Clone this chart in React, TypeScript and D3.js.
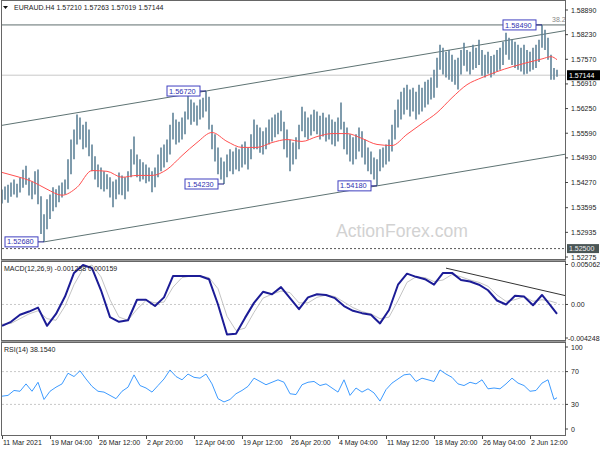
import React from "react";
import * as d3 from "d3";

// EURAUD H4, one entry per two 4H bars (index 0..185)
const barHigh = [
  1.5408, 1.5416, 1.5421, 1.5427, 1.5435, 1.5424, 1.5440, 1.5461, 1.5472, 1.5440,
  1.5430, 1.5457, 1.5462, 1.5390, 1.5342, 1.5382, 1.5395, 1.5414, 1.5409, 1.5419,
  1.5427, 1.5435, 1.5489, 1.5542, 1.5569, 1.5609, 1.5601, 1.5582, 1.5590, 1.5569,
  1.5529, 1.5497, 1.5475, 1.5467, 1.5457, 1.5449, 1.5441, 1.5430, 1.5435, 1.5454,
  1.5446, 1.5441, 1.5457, 1.5516, 1.5550, 1.5502, 1.5489, 1.5481, 1.5475, 1.5467,
  1.5457, 1.5467, 1.5502, 1.5521, 1.5529, 1.5542, 1.5582, 1.5614, 1.5596, 1.5590,
  1.5601, 1.5617, 1.5669, 1.5649, 1.5641, 1.5633, 1.5649, 1.5654, 1.5672, 1.5657,
  1.5582, 1.5556, 1.5521, 1.5494, 1.5483, 1.5502, 1.5516, 1.5510, 1.5521, 1.5516,
  1.5529, 1.5537, 1.5521, 1.5556, 1.5596, 1.5582, 1.5574, 1.5564, 1.5574, 1.5596,
  1.5601, 1.5609, 1.5614, 1.5620, 1.5590, 1.5569, 1.5542, 1.5534, 1.5548, 1.5582,
  1.5630, 1.5617, 1.5601, 1.5609, 1.5622, 1.5617, 1.5606, 1.5614, 1.5601, 1.5609,
  1.5596, 1.5590, 1.5601, 1.5641, 1.5590, 1.5574, 1.5556, 1.5548, 1.5556, 1.5574,
  1.5564, 1.5542, 1.5521, 1.5510, 1.5494, 1.5489, 1.5516, 1.5521, 1.5529, 1.5542,
  1.5582, 1.5622, 1.5649, 1.5670, 1.5681, 1.5689, 1.5676, 1.5681, 1.5670, 1.5689,
  1.5681, 1.5697, 1.5702, 1.5708, 1.5729, 1.5761, 1.5796, 1.5788, 1.5777, 1.5782,
  1.5769, 1.5756, 1.5761, 1.5782, 1.5801, 1.5782, 1.5777, 1.5796, 1.5788, 1.5809,
  1.5782, 1.5769, 1.5777, 1.5766, 1.5769, 1.5782, 1.5788, 1.5804, 1.5828, 1.5815,
  1.5809, 1.5804, 1.5796, 1.5788, 1.5796, 1.5782, 1.5777, 1.5788, 1.5796, 1.5809,
  1.5849, 1.5836, 1.5815, 1.5769, 1.5734, 1.5729,
];
const barLow = [
  1.5371, 1.5381, 1.5373, 1.5389, 1.5395, 1.5387, 1.5400, 1.5413, 1.5421, 1.5392,
  1.5382, 1.5395, 1.5369, 1.5289, 1.5268, 1.5302, 1.5329, 1.5350, 1.5361, 1.5374,
  1.5387, 1.5395, 1.5409, 1.5449, 1.5489, 1.5529, 1.5542, 1.5516, 1.5521, 1.5497,
  1.5457, 1.5435, 1.5414, 1.5409, 1.5403, 1.5409, 1.5387, 1.5361, 1.5382, 1.5395,
  1.5393, 1.5382, 1.5403, 1.5441, 1.5475, 1.5441, 1.5430, 1.5435, 1.5425, 1.5430,
  1.5401, 1.5414, 1.5441, 1.5457, 1.5467, 1.5481, 1.5502, 1.5542, 1.5529, 1.5534,
  1.5542, 1.5556, 1.5596, 1.5582, 1.5590, 1.5580, 1.5596, 1.5601, 1.5617, 1.5569,
  1.5516, 1.5483, 1.5449, 1.5435, 1.5423, 1.5441, 1.5457, 1.5449, 1.5462, 1.5457,
  1.5467, 1.5475, 1.5462, 1.5489, 1.5516, 1.5516, 1.5507, 1.5502, 1.5516, 1.5529,
  1.5537, 1.5548, 1.5556, 1.5564, 1.5516, 1.5494, 1.5457, 1.5475, 1.5489, 1.5516,
  1.5564, 1.5548, 1.5542, 1.5553, 1.5564, 1.5556, 1.5542, 1.5550, 1.5537, 1.5542,
  1.5529, 1.5524, 1.5537, 1.5569, 1.5516, 1.5502, 1.5483, 1.5475, 1.5489, 1.5510,
  1.5494, 1.5475, 1.5457, 1.5449, 1.5435, 1.5418, 1.5457, 1.5467, 1.5475, 1.5483,
  1.5510, 1.5542, 1.5574, 1.5596, 1.5609, 1.5622, 1.5604, 1.5617, 1.5596, 1.5609,
  1.5617, 1.5628, 1.5636, 1.5649, 1.5654, 1.5681, 1.5729, 1.5716, 1.5708, 1.5702,
  1.5697, 1.5689, 1.5676, 1.5716, 1.5740, 1.5724, 1.5716, 1.5729, 1.5734, 1.5742,
  1.5713, 1.5708, 1.5718, 1.5708, 1.5716, 1.5724, 1.5729, 1.5742, 1.5769, 1.5756,
  1.5742, 1.5734, 1.5729, 1.5724, 1.5716, 1.5718, 1.5724, 1.5729, 1.5734, 1.5750,
  1.5788, 1.5782, 1.5756, 1.5702, 1.5702, 1.5710,
];

// moving average (red)
const maIdx = [0, 5, 10, 15, 20, 25, 30, 35, 40, 45, 50, 55, 60, 65, 70, 75, 80, 85, 90, 95,
  100, 105, 110, 115, 120, 125, 130, 135, 140, 145, 150, 155, 160, 165, 170, 175, 180, 183, 185];
const maVal = [
  1.5454, 1.5443, 1.5430, 1.5409, 1.5393, 1.5414, 1.5459, 1.5457, 1.5441, 1.5446,
  1.5446, 1.5462, 1.5499, 1.5534, 1.5561, 1.5537, 1.5521, 1.5521, 1.5534, 1.5542,
  1.5537, 1.5550, 1.5558, 1.5558, 1.5545, 1.5529, 1.5526, 1.5556, 1.5585, 1.5614,
  1.5654, 1.5689, 1.5708, 1.5724, 1.5737, 1.5748, 1.5758, 1.5764, 1.5756,
];

const priceTicks = [1.5889, 1.5823, 1.5757, 1.5691, 1.5625, 1.5559, 1.5493, 1.5427, 1.53595, 1.52935, 1.52275];
const lastPrice = 1.57144;
const supportLevel = 1.525;
const fibLevel = 1.5849;

// swing labels
const swingText = ["1.52680", "1.56720", "1.54230", "1.54180", "1.58490"];
const swingIdx = [14, 68, 74, 125, 180];
const swingPrice = [1.5268, 1.5672, 1.5423, 1.5418, 1.5849];

// channel anchors
const chLowIdx = [14, 125];
const chLowPrice = [1.5268, 1.5418];
const chHighIdx = 68;
const chHighPrice = 1.5672;

// MACD (sampled every 3 index steps, last point at 185)
const macdIdx = [...d3.range(0, 62).map((k) => k * 3), 185];
const macdMain = [
  -0.0027, -0.0022, -0.0013, -0.0009, -0.0004, -0.0027, -0.0012, 0.0010, 0.0040, 0.0050,
  0.0046, 0.0018, -0.0016, -0.0022, -0.0020, 0.0006, 0.0006, -0.0002, 0.0009, 0.0036,
  0.0036, 0.0036, 0.0036, 0.0032, 0.0000, -0.0038, -0.0037, -0.0017, 0.0002, 0.0016,
  0.0013, 0.0022, 0.0008, -0.0006, 0.0009, 0.0013, 0.0012, 0.0008, -0.0002, -0.0008,
  -0.0011, -0.0013, -0.0024, -0.0007, 0.0025, 0.0039, 0.0035, 0.0032, 0.0025, 0.0040,
  0.0040, 0.0031, 0.0029, 0.0025, 0.0018, 0.0005, 0.0000, 0.0011, 0.0010, -0.0001,
  0.0012, -0.0002, -0.0012,
];
const macdSignal = [
  -0.0025, -0.0024, -0.0018, -0.0012, -0.0008, -0.0018, -0.0020, -0.0002, 0.0025, 0.0045,
  0.0050, 0.0035, 0.0006, -0.0016, -0.0020, -0.0006, 0.0005, 0.0002, 0.0003, 0.0022,
  0.0034, 0.0036, 0.0036, 0.0034, 0.0020, -0.0015, -0.0033, -0.0030, -0.0010, 0.0008,
  0.0013, 0.0017, 0.0015, 0.0002, 0.0002, 0.0009, 0.0012, 0.0010, 0.0003, -0.0004,
  -0.0009, -0.0012, -0.0018, -0.0016, 0.0005, 0.0028, 0.0035, 0.0034, 0.0029, 0.0031,
  0.0038, 0.0035, 0.0031, 0.0028, 0.0023, 0.0012, 0.0004, 0.0006, 0.0010, 0.0004,
  0.0006, 0.0004, 0.00016,
];
const macdTicks = [0.005062, 0, -0.004248];
const macdTickText = ["0.005062", "0.00", "-0.004248"];
const macdTrendIdx = [148, 188];
const macdTrendVal = [0.0046, 0.0011];

// RSI (sampled every 2 index steps, last point at 185)
const rsiIdx = [...d3.range(0, 93).map((k) => k * 2), 185];
const rsiVal = [
  40, 41, 47, 46, 55, 46, 57, 36, 46, 51,
  55, 68, 64, 71, 61, 52, 46, 45, 41, 37,
  46, 51, 66, 53, 50, 45, 53, 61, 72, 64,
  60, 67, 63, 62, 67, 55, 37, 33, 36, 43,
  47, 52, 62, 58, 54, 57, 60, 57, 43, 42,
  54, 57, 58, 53, 55, 50, 45, 60, 41, 50,
  45, 49, 44, 34, 48, 56, 61, 66, 67, 58,
  62, 60, 58, 72, 67, 63, 55, 53, 57, 55,
  60, 49, 50, 49, 55, 62, 56, 53, 46, 47,
  56, 60, 36, 38.154,
];
const rsiTicks = [100, 70, 30, 0];

const timeLabels = ["11 Mar 2021", "19 Mar 04:00", "26 Mar 12:00", "2 Apr 20:00", "12 Apr 04:00", "19 Apr 12:00",
  "26 Apr 20:00", "4 May 04:00", "11 May 12:00", "18 May 20:00", "26 May 04:00", "2 Jun 12:00"];

const font = "'Liberation Sans', Arial, sans-serif";

const App = () => {
  const right = 565;
  const x = d3.scaleLinear().domain([0, 185]).range([2, 557]);
  const yP = d3.scaleLinear().domain([1.52275, 1.5889]).range([257, 10]);
  const yM = d3.scaleLinear().domain([-0.004248, 0.005062]).range([338, 264.5]);
  const yR = d3.scaleLinear().domain([0, 100]).range([429, 347]);
  const idxRight = x.invert(right);

  const slope = (chLowPrice[1] - chLowPrice[0]) / (chLowIdx[1] - chLowIdx[0]);
  const lowAt = (i: number) => chLowPrice[0] + (i - chLowIdx[0]) * slope;
  const highAt = (i: number) => chHighPrice + (i - chHighIdx) * slope;

  const maLine = d3.line<number>().x((_, i) => x(maIdx[i])).y((d) => yP(d)).curve(d3.curveMonotoneX);
  const macdLine = d3.line<number>().x((_, i) => x(macdIdx[i])).y((d) => yM(d));
  const rsiLine = d3.line<number>().x((_, i) => x(rsiIdx[i])).y((d) => yR(d));

  const txt = { fontFamily: font, fontSize: 7, fill: "#222" } as const;

  return (
    <svg width={600} height={450} style={{ position: "absolute", left: 0, top: 0, background: "#fff" }}>
      <defs>
        <clipPath id="cMain"><rect x={2} y={1} width={right - 2} height={258} /></clipPath>
        <clipPath id="cMacd"><rect x={2} y={262} width={right - 2} height={78} /></clipPath>
        <clipPath id="cRsi"><rect x={2} y={343} width={right - 2} height={92} /></clipPath>
      </defs>

      {/* panel frames */}
      <rect x={1.5} y={0.5} width={right - 1} height={259} fill="none" stroke="#666" />
      <rect x={1.5} y={261.5} width={right - 1} height={79} fill="none" stroke="#666" />
      <rect x={1.5} y={342.5} width={right - 1} height={93} fill="none" stroke="#666" />
      <line x1={1} x2={right + 1} y1={260.5} y2={260.5} stroke="#999" />
      <line x1={1} x2={right + 1} y1={341.5} y2={341.5} stroke="#999" />

      {/* main panel */}
      <text x={336} y={237} fontFamily={font} fontSize={17.6} fill="#d2d2d2">ActionForex.com</text>
      <g clipPath="url(#cMain)">
        <line x1={2} x2={right} y1={yP(lastPrice)} y2={yP(lastPrice)} stroke="#c8c8c8" />
        <line x1={2} x2={right} y1={yP(supportLevel)} y2={yP(supportLevel)} stroke="#555" strokeDasharray="2,2" />
        <line x1={2} x2={right} y1={yP(fibLevel)} y2={yP(fibLevel)} stroke="#5e6e6e" />
        <line x1={x(0)} x2={right} y1={yP(highAt(0))} y2={yP(highAt(idxRight))} stroke="#5e7373" />
        <line x1={x(chLowIdx[0])} x2={right} y1={yP(lowAt(chLowIdx[0]))} y2={yP(lowAt(idxRight))} stroke="#5e7373" />
        {barHigh.map((h, i) => (
          <line key={i} x1={x(i)} x2={x(i)} y1={yP(h)} y2={yP(barLow[i])} stroke="#5f8398" strokeWidth={1.6} />
        ))}
        <path d={maLine(maVal) ?? ""} fill="none" stroke="#ff5050" strokeWidth={1} />
        {swingText.map((t, k) => {
          const px = x(swingIdx[k]);
          const py = yP(swingPrice[k]);
          const bx = px - 39;
          return (
            <g key={t}>
              <line x1={bx + 33} x2={px} y1={py} y2={py} stroke="#1a1a80" />
              <rect x={bx} y={py - 5} width={33} height={10} fill="#fff" stroke="#4040c0" />
              <text x={bx + 2} y={py + 2.6} fontFamily={font} fontSize={7.4} fill="#3030b0">{t}</text>
            </g>
          );
        })}
        <text x={552} y={yP(fibLevel) - 3} {...txt} fill="#888">38.2</text>
      </g>
      <path d="M3,6 L8,6 L5.5,9 Z" fill="#111" />
      <text x={14} y={10} {...txt}>EURAUD.H4  1.57210 1.57263 1.57019 1.57144</text>

      {/* price axis */}
      {priceTicks.map((v) => (
        <g key={v}>
          <line x1={right} x2={right + 3} y1={yP(v)} y2={yP(v)} stroke="#444" />
          <text x={571} y={yP(v) + 2.5} {...txt}>{v.toFixed(5)}</text>
        </g>
      ))}
      <rect x={567} y={yP(lastPrice) - 5} width={33} height={10} fill="#000" />
      <text x={569} y={yP(lastPrice) + 2.5} {...txt} fill="#fff">{lastPrice.toFixed(5)}</text>
      <rect x={567} y={yP(supportLevel) - 4.5} width={32} height={9} fill="#4a5656" />
      <text x={569} y={yP(supportLevel) + 2.5} {...txt} fill="#eee">{supportLevel.toFixed(5)}</text>

      {/* MACD panel */}
      <g clipPath="url(#cMacd)">
        <line x1={2} x2={right} y1={yM(0)} y2={yM(0)} stroke="#c8c8c8" strokeDasharray="2,2" />
        <path d={macdLine(macdSignal) ?? ""} fill="none" stroke="#c4c4c4" strokeWidth={1} />
        <path d={macdLine(macdMain) ?? ""} fill="none" stroke="#1c1c96" strokeWidth={2} strokeLinejoin="round" />
        <line x1={x(macdTrendIdx[0])} x2={x(macdTrendIdx[1])} y1={yM(macdTrendVal[0])} y2={yM(macdTrendVal[1])} stroke="#333" />
      </g>
      <text x={4} y={271} {...txt}>MACD(12,26,9) -0.001238 0.000159</text>
      {macdTicks.map((v, k) => (
        <g key={k}>
          <line x1={right} x2={right + 3} y1={yM(v)} y2={yM(v)} stroke="#444" />
          <text x={v < 0 ? 568 : 571} y={yM(v) + 2.5} {...txt}>{macdTickText[k]}</text>
        </g>
      ))}

      {/* RSI panel */}
      <g clipPath="url(#cRsi)">
        <line x1={2} x2={right} y1={yR(70)} y2={yR(70)} stroke="#c8c8c8" strokeDasharray="2,2" />
        <line x1={2} x2={right} y1={yR(30)} y2={yR(30)} stroke="#c8c8c8" strokeDasharray="2,2" />
        <path d={rsiLine(rsiVal) ?? ""} fill="none" stroke="#3d9bff" strokeWidth={1} />
      </g>
      <text x={4} y={352} {...txt}>RSI(14) 38.1540</text>
      {rsiTicks.map((v) => (
        <g key={v}>
          <line x1={right} x2={right + 3} y1={yR(v)} y2={yR(v)} stroke="#444" />
          <text x={571} y={yR(v) + 2.5} {...txt}>{v}</text>
        </g>
      ))}

      {/* time axis */}
      {timeLabels.map((t, k) => (
        <g key={t}>
          <line x1={x(k * 16) + 0.5} x2={x(k * 16) + 0.5} y1={436} y2={439} stroke="#444" />
          <text x={x(k * 16) + 1} y={445} {...txt}>{t}</text>
        </g>
      ))}
    </svg>
  );
};

export default App;
